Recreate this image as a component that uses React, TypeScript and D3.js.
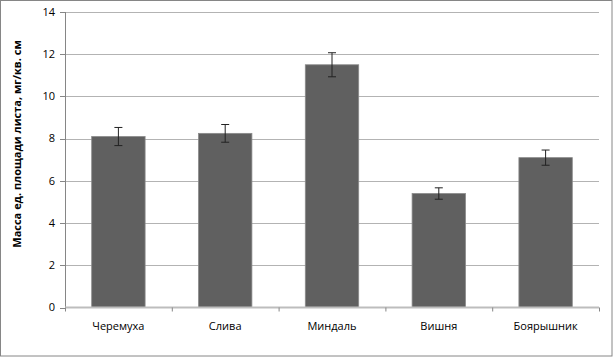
import React from "react";
import * as d3 from "d3";

const categories = ["Черемуха", "Слива", "Миндаль", "Вишня", "Боярышник"];
const values = [8.1, 8.25, 11.5, 5.4, 7.1];
const errors = [0.43, 0.42, 0.57, 0.27, 0.36];
const yTicks = [0, 2, 4, 6, 8, 10, 12, 14];
const yTitle = "Масса ед. площади листа, мг/кв. см";

const W = 613;
const H = 357;
const left = 65;
const right = 599;
const top = 12;
const bottom = 307.5;
const FONT = "'Open Sans', 'DejaVu Sans', sans-serif";

export default function App() {
  const x = d3.scaleBand<string>().domain(categories).range([left, right]).paddingInner(0.5).paddingOuter(0.25);
  const xOuter = d3.scaleBand<string>().domain(categories).range([left, right]);
  const y = d3.scaleLinear().domain([0, 14]).range([bottom, top]);
  const bw = x.bandwidth();
  const tickX = categories.map((c) => xOuter(c) as number).concat([right]);

  return (
    <svg width={W} height={H} style={{ position: "absolute", left: 0, top: 0 }}>
      <rect x={0.5} y={0.5} width={W - 1.5} height={H - 1.5} fill="#fff" stroke="#868686" strokeWidth={1} />
      {yTicks.map((t) => (
        <g key={t}>
          {t > 0 && <line x1={left} x2={right} y1={Math.round(y(t)) + 0.5} y2={Math.round(y(t)) + 0.5} stroke="#b3b3b3" strokeWidth={1} />}
          <line x1={left - 5} x2={left} y1={Math.round(y(t)) + 0.5} y2={Math.round(y(t)) + 0.5} stroke="#868686" strokeWidth={1} />
          <text x={55} y={y(t)} dy="0.35em" textAnchor="end" fontFamily={FONT} fontSize={11} fill="#000">{t}</text>
        </g>
      ))}
      <line x1={left + 0.5} x2={left + 0.5} y1={top} y2={bottom} stroke="#868686" strokeWidth={1} />
      {categories.map((c, i) => {
        const bx = x(c) as number;
        const cx = bx + bw / 2;
        const v = values[i];
        const e = errors[i];
        return (
          <g key={c}>
            <rect x={bx} y={y(v)} width={bw} height={bottom - y(v)} fill="#606060" stroke="#8a8a8a" strokeWidth={0.8} />
            <line x1={cx} x2={cx} y1={y(v + e)} y2={y(v - e)} stroke="#222" strokeWidth={1} />
            <line x1={cx - 4} x2={cx + 4} y1={y(v + e)} y2={y(v + e)} stroke="#222" strokeWidth={1} />
            <line x1={cx - 4} x2={cx + 4} y1={y(v - e)} y2={y(v - e)} stroke="#222" strokeWidth={1} />
            <text x={cx} y={326} dy="0.35em" textAnchor="middle" fontFamily={FONT} fontSize={11} fill="#000">{c}</text>
          </g>
        );
      })}
      <line x1={left} x2={right} y1={bottom} y2={bottom} stroke="#bdbdbd" strokeWidth={2} />
      {tickX.map((tx, i) => (
        <line key={i} x1={tx + 0.5} x2={tx + 0.5} y1={bottom} y2={bottom + 4} stroke="#868686" strokeWidth={1} />
      ))}
      <text transform={`translate(17,${144}) rotate(-90)`} textAnchor="middle" dy="0.35em" fontFamily={FONT} fontSize={11} fontWeight="bold" fill="#000">{yTitle}</text>
    </svg>
  );
}
